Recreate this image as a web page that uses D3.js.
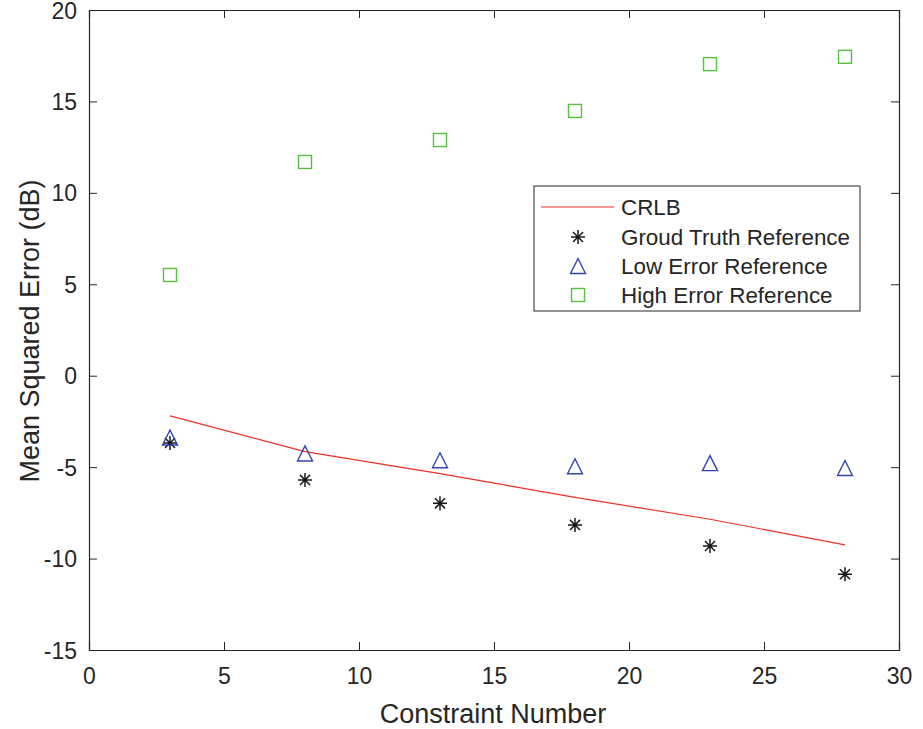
<!DOCTYPE html>
<html>
<head>
<meta charset="utf-8">
<script src="https://cdn.jsdelivr.net/npm/d3@7"></script>
<style>
  html, body { margin: 0; padding: 0; background: #fff; }
  svg { display: block; }
  text { font-family: "Liberation Sans", Arial, Helvetica, sans-serif; fill: #262626; }
</style>
</head>
<body>
<svg id="chart" width="923" height="729"></svg>
<script>
// ---- data ----
const constraintNumbers = [3, 8, 13, 18, 23, 28];
const crlb = [-2.2, -4.15, -5.35, -6.65, -7.85, -9.25];
const groundTruth = [-3.68, -5.70, -6.98, -8.16, -9.31, -10.86];
const lowError = [-3.38, -4.25, -4.62, -4.95, -4.78, -5.05];
const highError = [5.51, 11.69, 12.89, 14.48, 17.04, 17.44];
const xTicks = [0, 5, 10, 15, 20, 25, 30];
const yTicks = [-15, -10, -5, 0, 5, 10, 15, 20];
const legendLabels = ["CRLB", "Groud Truth Reference", "Low Error Reference", "High Error Reference"];
const xLabel = "Constraint Number";
const yLabel = "Mean Squared Error (dB)";

// ---- layout ----
const L = 89, R = 899, T = 10, B = 650;
const svg = d3.select("#chart");
const x = d3.scaleLinear().domain([0, 30]).range([L, R]);
const y = d3.scaleLinear().domain([-15, 20]).range([B, T]);
const axisColor = "#262626";
const red = "#ee2f24", blue = "#3344b0", green = "#55c23f", black = "#1a1a1a";
const fmt = d => String(d).replace("\u2212", "-");

// axes with inward ticks
const tickLen = 8;
const gB = svg.append("g").attr("transform", `translate(0,${B})`)
  .call(d3.axisBottom(x).tickValues(xTicks).tickSize(-tickLen).tickFormat(fmt).tickPadding(18));
const gT = svg.append("g").attr("transform", `translate(0,${T})`)
  .call(d3.axisTop(x).tickValues(xTicks).tickSize(-tickLen).tickFormat(""));
const gL = svg.append("g").attr("transform", `translate(${L},0)`)
  .call(d3.axisLeft(y).tickValues(yTicks).tickSize(-tickLen).tickFormat(fmt).tickPadding(12));
const gR = svg.append("g").attr("transform", `translate(${R},0)`)
  .call(d3.axisRight(y).tickValues(yTicks).tickSize(-tickLen).tickFormat(""));
[gB, gT, gL, gR].forEach(g => {
  g.select(".domain").attr("stroke", axisColor).attr("stroke-width", 1.2);
  g.selectAll(".tick line").attr("stroke", axisColor).attr("stroke-width", 1);
  g.selectAll(".tick text").attr("fill", axisColor).style("font-size", "23px")
    .style("font-family", "'Liberation Sans', Arial, sans-serif");
});
gB.selectAll(".tick text").attr("dy", "0.71em");
gL.selectAll(".tick text").attr("dy", "0.35em");

// axis labels
svg.append("text").attr("x", (L + R) / 2 - 1).attr("y", 723)
  .attr("text-anchor", "middle").style("font-size", "27px").text(xLabel);
svg.append("text").attr("transform", `translate(39,${(T + B) / 2 + 1}) rotate(-90)`)
  .attr("text-anchor", "middle").style("font-size", "27px").text(yLabel);

// marker helpers
function star(g, cx, cy, s) {
  const r = s / 2, d = r * 0.72;
  const p = `M${cx},${cy - r}L${cx},${cy + r}M${cx - r},${cy}L${cx + r},${cy}` +
            `M${cx - d},${cy - d}L${cx + d},${cy + d}M${cx - d},${cy + d}L${cx + d},${cy - d}`;
  g.append("path").attr("d", p).attr("stroke", black).attr("stroke-width", 1.5).attr("fill", "none");
}
function tri(g, cx, cy, s) {
  const h = s / 2;
  g.append("path").attr("d", `M${cx},${cy - h}L${cx + h},${cy + h}L${cx - h},${cy + h}Z`)
    .attr("stroke", blue).attr("stroke-width", 1.4).attr("fill", "none");
}
function sq(g, cx, cy, s) {
  g.append("rect").attr("x", cx - s / 2).attr("y", cy - s / 2).attr("width", s).attr("height", s)
    .attr("stroke", green).attr("stroke-width", 1.4).attr("fill", "none");
}

// CRLB line
const line = d3.line().x((d, i) => x(constraintNumbers[i])).y(d => y(d));
svg.append("path").datum(crlb).attr("d", line)
  .attr("stroke", red).attr("stroke-width", 1.2).attr("fill", "none");

const gm = svg.append("g");
constraintNumbers.forEach((c, i) => {
  star(gm, x(c), y(groundTruth[i]), 14);
  tri(gm, x(c), y(lowError[i]), 15);
  sq(gm, x(c), y(highError[i]), 13);
});

// legend
const lg = svg.append("g");
lg.append("rect").attr("x", 534).attr("y", 186).attr("width", 326).attr("height", 125)
  .attr("fill", "#fff").attr("stroke", axisColor).attr("stroke-width", 1);
const rowY = [207, 237, 266, 295];
lg.append("line").attr("x1", 541).attr("x2", 614).attr("y1", rowY[0]).attr("y2", rowY[0])
  .attr("stroke", red).attr("stroke-width", 1.2);
star(lg, 578, rowY[1], 14);
tri(lg, 578, rowY[2], 15);
sq(lg, 578, rowY[3], 13);
legendLabels.forEach((t, i) => {
  lg.append("text").attr("x", 621).attr("y", rowY[i]).attr("dy", "0.35em")
    .style("font-size", "22.4px").text(t);
});
</script>
</body>
</html>
